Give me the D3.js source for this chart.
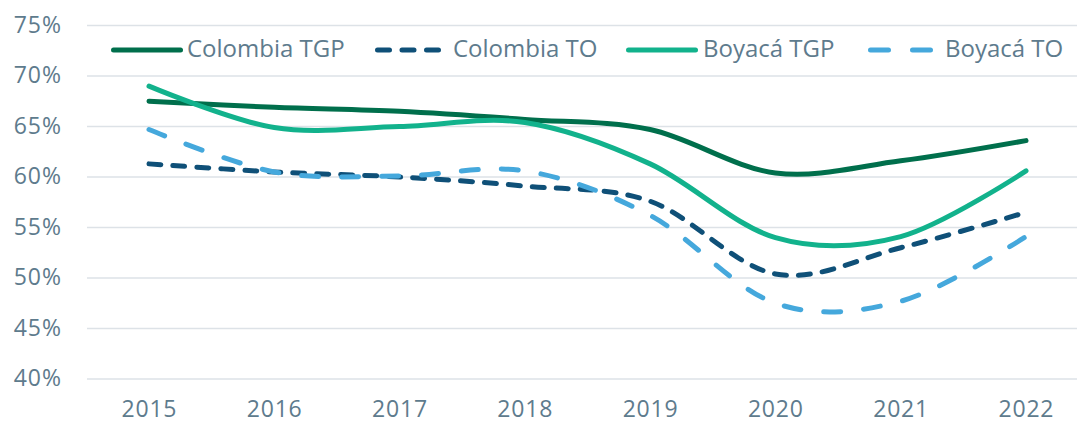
<!DOCTYPE html>
<html>
<head>
<meta charset="utf-8">
<script src="https://cdn.jsdelivr.net/npm/d3@7"></script>
<style>
  body { margin: 0; background: #fff; }
  text { font-family: "Open Sans", Lato, sans-serif; }
</style>
</head>
<body>
<div id="chart"></div>
<script>
const years = [2015, 2016, 2017, 2018, 2019, 2020, 2021, 2022];
const colombiaTGP = [67.5, 66.9, 66.5, 65.7, 64.7, 60.4, 61.6, 63.6];
const colombiaTO = [61.3, 60.5, 60.0, 59.1, 57.6, 50.4, 53.0, 56.5];
const boyacaTGP = [69.0, 64.9, 65.0, 65.4, 61.3, 54.0, 54.1, 60.6];
const boyacaTO = [64.7, 60.5, 60.1, 60.6, 56.2, 47.5, 47.7, 54.1];
const yTicks = [40, 45, 50, 55, 60, 65, 70, 75];

const series = [
  { name: "Colombia TGP", values: colombiaTGP, color: "#006f4c", dash: null },
  { name: "Colombia TO", values: colombiaTO, color: "#0f5078", dash: "12,12" },
  { name: "Boyacá TGP", values: boyacaTGP, color: "#12b28c", dash: null },
  { name: "Boyacá TO", values: boyacaTO, color: "#45a8dc", dash: "17,23" }
];

const width = 1077, height = 423;
const svg = d3.select("#chart").append("svg")
  .attr("width", width)
  .attr("height", height);

const x = d3.scalePoint()
  .domain(years)
  .range([149, 1026]);

const y = d3.scaleLinear()
  .domain([40, 75])
  .range([379, 25.5]);

// grid lines
svg.append("g")
  .selectAll("line")
  .data(yTicks)
  .enter()
  .append("line")
  .attr("x1", 87)
  .attr("x2", 1077)
  .attr("y1", d => y(d))
  .attr("y2", d => y(d))
  .attr("stroke", "#dde2e7")
  .attr("stroke-width", 1.5);

// y labels
svg.append("g")
  .selectAll("text")
  .data(yTicks)
  .enter()
  .append("text")
  .attr("x", 62)
  .attr("y", d => y(d) + 7)
  .attr("text-anchor", "end")
  .attr("fill", "#5e7b8d")
  .attr("font-size", 23)
  .attr("letter-spacing", 1)
  .text(d => d + "%");

// x labels
svg.append("g")
  .selectAll("text")
  .data(years)
  .enter()
  .append("text")
  .attr("x", d => x(d) + 0.4)
  .attr("y", 416.5)
  .attr("text-anchor", "middle")
  .attr("fill", "#5e7b8d")
  .attr("font-size", 23)
  .attr("letter-spacing", 0.8)
  .text(d => d);

const line = d3.line()
  .x((d, i) => x(years[i]))
  .y(d => y(d))
  .curve(d3.curveCardinal.tension(0));

svg.append("g")
  .selectAll("path")
  .data(series)
  .enter()
  .append("path")
  .attr("d", d => line(d.values))
  .attr("fill", "none")
  .attr("stroke", d => d.color)
  .attr("stroke-width", 5)
  .attr("stroke-linecap", "round")
  .attr("stroke-dasharray", d => d.dash);

// legend
const legendStart = [113.5, 377.5, 628.5, 870.5];
const legendEnd = [180.5, 438.5, 695.5, 930.5];
const legendText = [187, 453, 703, 945];
const legendDash = [null, "12,12.5", null, "18,24"];

const legend = svg.append("g")
  .selectAll("g")
  .data(series)
  .enter()
  .append("g");

legend.append("line")
  .attr("x1", (d, i) => legendStart[i])
  .attr("x2", (d, i) => legendEnd[i])
  .attr("y1", 50)
  .attr("y2", 50)
  .attr("stroke", d => d.color)
  .attr("stroke-width", 5)
  .attr("stroke-linecap", "round")
  .attr("stroke-dasharray", (d, i) => legendDash[i]);

legend.append("text")
  .attr("x", (d, i) => legendText[i])
  .attr("y", 57)
  .attr("fill", "#5e7b8d")
  .attr("font-size", 24)
  .text(d => d.name);
</script>
</body>
</html>
